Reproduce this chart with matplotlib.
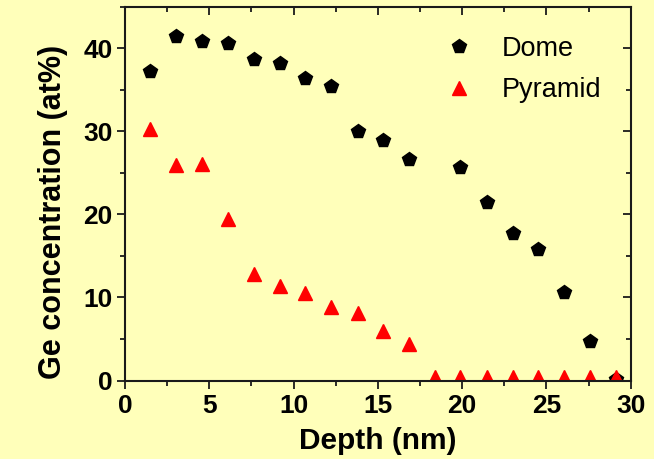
import matplotlib
matplotlib.use("Agg")
import matplotlib.pyplot as plt
from matplotlib.ticker import MultipleLocator

# depth positions (nm)
depth = [1.5, 3.05, 4.6, 6.1, 7.65, 9.2, 10.7, 12.25, 13.8, 15.3, 16.85,
         18.4, 19.9, 21.45, 23.0, 24.5, 26.05, 27.6, 29.1]

# dome has no point at 18.4 nm
dome_depth = [d for i, d in enumerate(depth) if i != 11]
dome_ge = [37.3, 41.5, 40.9, 40.7, 38.7, 38.2, 36.4, 35.5, 30.1, 29.0, 26.7,
           25.7, 21.5, 17.8, 15.8, 10.7, 4.8, 0.2]

pyramid_ge = [30.3, 26.0, 26.1, 19.4, 12.8, 11.4, 10.6, 8.8, 8.1, 6.0, 4.4,
              0.4, 0.4, 0.4, 0.4, 0.4, 0.4, 0.4, 0.4]

bg = "#FFFFBA"
ink = "#1a1a1a"
plt.rcParams["font.family"] = "Liberation Sans"

fig = plt.figure(figsize=(6.54, 4.59), dpi=100, facecolor=bg)
ax = fig.add_axes([0.191, 0.171, 0.7734, 0.814])
ax.set_facecolor(bg)

ax.plot(dome_depth, dome_ge, linestyle="none", marker="p", markersize=10,
        color="black", label="Dome")
ax.plot(depth, pyramid_ge, linestyle="none", marker="^", markersize=10,
        color="red", label="Pyramid")

ax.set_xlim(0, 30)
ax.set_ylim(0, 45)
ax.xaxis.set_major_locator(MultipleLocator(5))
ax.xaxis.set_minor_locator(MultipleLocator(2.5))
ax.yaxis.set_major_locator(MultipleLocator(10))
ax.yaxis.set_minor_locator(MultipleLocator(5))

for s in ax.spines.values():
    s.set_linewidth(1.5)
    s.set_color(ink)

# outward ticks on bottom/left, inward mirrored on top/right
ax.tick_params(which="both", direction="out", width=1.3, color=ink,
               labelsize=19)
ax.tick_params(which="major", length=6)
ax.tick_params(which="minor", length=3.5)
ax.tick_params(axis="x", pad=4)
ax.tick_params(axis="y", pad=3)
sec_x = ax.secondary_xaxis("top")
sec_x.xaxis.set_major_locator(MultipleLocator(5))
sec_x.xaxis.set_minor_locator(MultipleLocator(2.5))
sec_x.tick_params(which="both", direction="in", width=1.3, color=ink,
                  labeltop=False)
sec_x.tick_params(which="major", length=6)
sec_x.tick_params(which="minor", length=3.5)
sec_x.spines["top"].set_visible(False)
sec_y = ax.secondary_yaxis("right")
sec_y.yaxis.set_major_locator(MultipleLocator(10))
sec_y.yaxis.set_minor_locator(MultipleLocator(5))
sec_y.tick_params(which="both", direction="in", width=1.3, color=ink,
                  labelright=False)
sec_y.tick_params(which="major", length=6)
sec_y.tick_params(which="minor", length=3.5)
sec_y.spines["right"].set_visible(False)

for lab in ax.get_xticklabels() + ax.get_yticklabels():
    lab.set_fontweight("bold")

ax.set_xlabel("Depth (nm)", fontsize=21.5, fontweight="bold", labelpad=6)
ax.set_ylabel("Ge concentration (at%)", fontsize=22, fontweight="bold",
              labelpad=11, y=0.4525)

ax.legend(loc="upper left", frameon=False, fontsize=19.5, handlelength=1.0,
          handletextpad=1.1, bbox_to_anchor=(0.612, 0.952), borderaxespad=0,
          labelspacing=0.57)

fig.savefig("out.png", dpi=100, facecolor=bg)
